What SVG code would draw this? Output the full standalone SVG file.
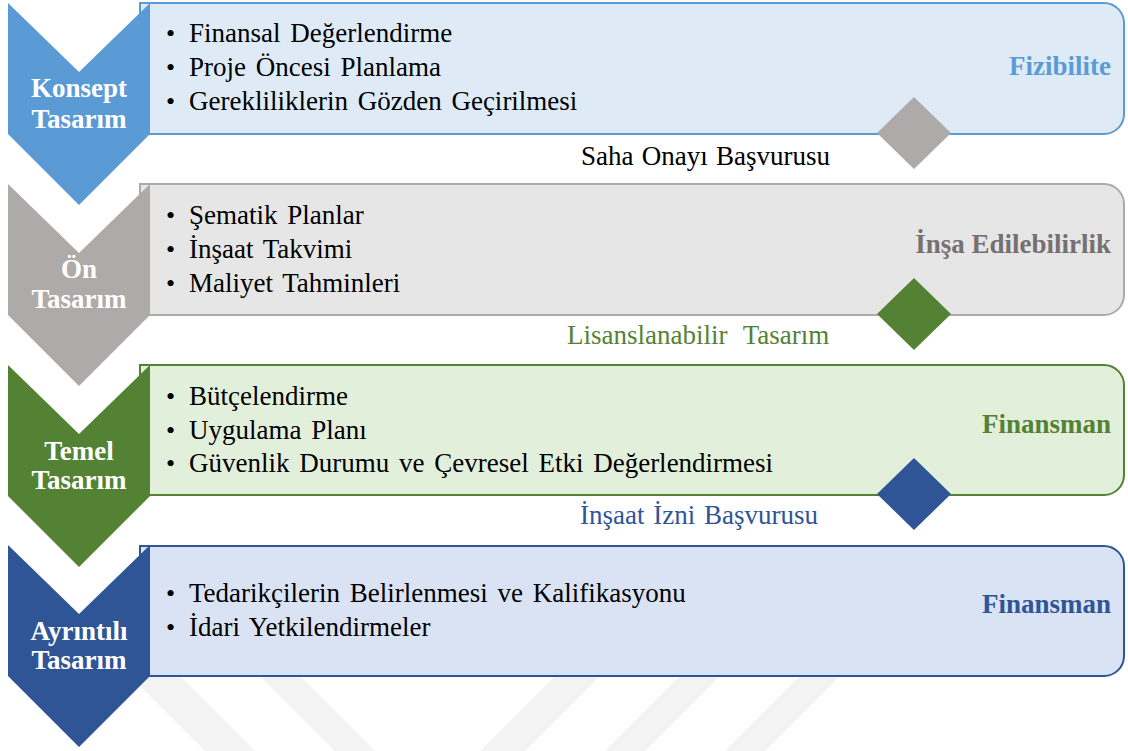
<svg xmlns="http://www.w3.org/2000/svg" width="1128" height="751" viewBox="0 0 1128 751">
<style>
text{font-family:'Liberation Serif','Tinos','Noto Serif','DejaVu Serif',serif}
.item{font-size:27px;fill:#000;word-spacing:3px}
.bul{font-size:26px;fill:#000}
.chev{font-size:27px;font-weight:bold;fill:#fff;text-anchor:middle}
.tag{font-size:27px;font-weight:bold;text-anchor:end}
.gate{font-size:27px}
.wm{fill:#f3f3f3}
</style>
<rect width="1128" height="751" fill="#fff"/>
<g id="watermark">
<polygon class="wm" points="130,676 180,676 255,751 205,751"/>
<polygon class="wm" points="260,676 300,676 375,751 335,751"/>
<polygon class="wm" points="555,676 600,676 525,751 480,751"/>
<polygon class="wm" points="680,676 720,676 645,751 605,751"/>
<polygon class="wm" points="800,676 840,676 765,751 725,751"/>
</g>
<g id="stage1">
<path d="M140,3 H1104 A20,20 0 0 1 1124,23 V114 A20,20 0 0 1 1104,134 H140 Z" fill="#deebf7" stroke="#5b9bd5" stroke-width="2"/>
<path d="M8,3 L79,72 L150,3 L150,134 L79,205 L8,134 Z" fill="#5b9bd5"/>
<text class="chev" x="79" y="97">Konsept</text>
<text class="chev" x="79" y="128">Tasarım</text>
<text class="bul" x="166" y="42">•</text><text class="item" x="189" y="42">Finansal Değerlendirme</text>
<text class="bul" x="166" y="76">•</text><text class="item" x="189" y="76">Proje Öncesi Planlama</text>
<text class="bul" x="166" y="110">•</text><text class="item" x="189" y="110">Gerekliliklerin Gözden Geçirilmesi</text>
<text class="tag" x="1111" y="75" fill="#5b9bd5">Fizibilite</text>
</g>
<g id="stage2">
<path d="M140,184 H1104 A20,20 0 0 1 1124,204 V295 A20,20 0 0 1 1104,315 H140 Z" fill="#e7e6e6" stroke="#aeaaaa" stroke-width="2"/>
<path d="M8,184 L79,253 L150,184 L150,315 L79,386 L8,315 Z" fill="#aeaaaa"/>
<text class="chev" x="79" y="278">Ön</text>
<text class="chev" x="79" y="308">Tasarım</text>
<text class="bul" x="166" y="224">•</text><text class="item" x="189" y="224">Şematik Planlar</text>
<text class="bul" x="166" y="258">•</text><text class="item" x="189" y="258">İnşaat Takvimi</text>
<text class="bul" x="166" y="292">•</text><text class="item" x="189" y="292">Maliyet Tahminleri</text>
<text class="tag" x="1111" y="253" fill="#767171">İnşa Edilebilirlik</text>
</g>
<g id="stage3">
<path d="M140,365 H1104 A20,20 0 0 1 1124,385 V475 A20,20 0 0 1 1104,495 H140 Z" fill="#e2efda" stroke="#548235" stroke-width="2"/>
<path d="M8,365 L79,434 L150,365 L150,496 L79,567 L8,496 Z" fill="#548235"/>
<text class="chev" x="79" y="460">Temel</text>
<text class="chev" x="79" y="489">Tasarım</text>
<text class="bul" x="166" y="405">•</text><text class="item" x="189" y="405">Bütçelendirme</text>
<text class="bul" x="166" y="439">•</text><text class="item" x="189" y="439">Uygulama Planı</text>
<text class="bul" x="166" y="472">•</text><text class="item" x="189" y="472">Güvenlik Durumu ve Çevresel Etki Değerlendirmesi</text>
<text class="tag" x="1111" y="433" fill="#548235">Finansman</text>
</g>
<g id="stage4">
<path d="M140,546 H1104 A20,20 0 0 1 1124,566 V656 A20,20 0 0 1 1104,676 H140 Z" fill="#dae3f3" stroke="#2f5597" stroke-width="2"/>
<path d="M8,545 L79,614 L150,545 L150,676 L79,747 L8,676 Z" fill="#2f5597"/>
<text class="chev" x="79" y="640">Ayrıntılı</text>
<text class="chev" x="79" y="669">Tasarım</text>
<text class="bul" x="166" y="602">•</text><text class="item" x="189" y="602">Tedarikçilerin Belirlenmesi ve Kalifikasyonu</text>
<text class="bul" x="166" y="636">•</text><text class="item" x="189" y="636">İdari Yetkilendirmeler</text>
<text class="tag" x="1111" y="613" fill="#2f5597">Finansman</text>
</g>
<g id="connectors">
<g id="gate1">
<polygon points="914,97 951,133 914,169 877,133" fill="#aeaaaa"/>
<text class="gate" x="581" y="165" fill="#000" word-spacing="1.5">Saha Onayı Başvurusu</text>
</g>
<g id="gate2">
<polygon points="914,278 951,314 914,350 877,314" fill="#548235"/>
<text class="gate" x="567" y="344" fill="#548235" word-spacing="9">Lisanslanabilir Tasarım</text>
</g>
<g id="gate3">
<polygon points="914,458 951,494 914,530 877,494" fill="#2f5597"/>
<text class="gate" x="580" y="524" fill="#2f5597" word-spacing="2">İnşaat İzni Başvurusu</text>
</g>
</g>
</svg>
